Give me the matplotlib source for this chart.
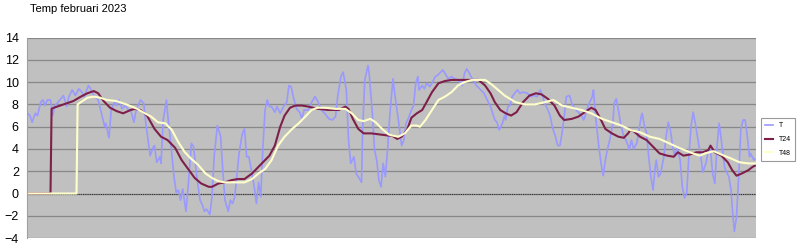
import numpy as np
import matplotlib.pyplot as plt

plt.rcParams['font.family'] = ['Liberation Sans', 'DejaVu Sans']

# hourly temperatures, february 2023 (hour index, value)
t_hours = [0, 2, 4, 7, 9, 12, 14, 16, 18, 21, 23, 25, 28, 33, 36, 38, 41, 44, 47, 50,
           52, 56, 58, 61, 65, 68, 71, 72, 75, 77, 80, 82, 84, 87, 90, 93, 95, 98, 100, 104,
           107, 109, 111, 113, 116, 117, 119, 122, 123, 125, 128, 129, 132, 135, 137, 139, 141, 143, 146, 148,
           151, 153, 156, 159, 161, 163, 165, 168, 170, 172, 175, 178, 180, 182, 185, 187, 189, 191, 195, 198,
           200, 202, 204, 207, 209, 211, 213, 215, 217, 219, 221, 223, 225, 228, 230, 233, 236, 239, 241, 243,
           245, 248, 251, 253, 255, 259, 262, 265, 268, 271, 274, 278, 281, 284, 286, 289, 291, 294, 296, 298,
           301, 303, 305, 308, 309, 311, 314, 315, 318, 320, 322, 324, 326, 328, 330, 332, 334, 337, 339, 342,
           344, 345, 347, 349, 351, 354, 356, 358, 360, 361, 364, 366, 368, 371, 373, 376, 378, 381, 383, 385,
           388, 391, 394, 397, 401, 403, 405, 407, 409, 411, 414, 417, 421, 424, 427, 429, 431, 433, 435, 438,
           440, 441, 443, 445, 447, 450, 452, 454, 457, 461, 464, 467, 470, 473, 475, 477, 480, 482, 484, 487,
           489, 491, 493, 495, 497, 500, 502, 505, 508, 511, 513, 516, 518, 521, 522, 524, 527, 529, 531, 533,
           535, 537, 540, 541, 543, 545, 547, 550, 552, 554, 555, 557, 559, 562, 564, 566, 567, 569, 571, 573,
           575, 577, 579, 580, 582, 584, 587, 589, 591, 593, 595, 597, 599, 602, 604, 606, 608, 610, 612, 614,
           616, 619, 621, 623, 626, 628, 630, 632, 634, 636, 638, 640, 643, 644, 647, 649, 650, 652, 654, 656,
           658, 660, 662, 664, 666, 667, 670, 671]
t_vals = [7.2, 7.0, 6.4, 7.2, 7.0, 8.2, 8.4, 7.9, 8.4, 8.4, 7.0, 7.9, 8.2, 8.8, 7.8, 8.7, 9.3, 8.8, 9.4, 9.1,
          8.7, 9.7, 9.4, 8.8, 8.4, 7.2, 6.0, 6.3, 5.0, 7.5, 8.2, 7.9, 8.4, 7.6, 7.9, 7.5, 7.5, 6.4, 7.5, 8.4,
          8.1, 6.3, 4.8, 3.4, 4.2, 4.3, 2.8, 3.3, 2.7, 6.6, 8.4, 7.2, 4.5, 1.5, 0.1, 0.3, -0.6, 0.4, -1.6, 0.6,
          4.5, 4.2, 1.5, -0.6, -1.0, -1.6, -1.4, -1.9, -0.3, 3.3, 6.1, 5.1, 2.1, -0.6, -1.6, -0.6, -0.9, -0.3, 3.6, 5.4,
          5.8, 3.3, 3.3, 1.8, 0.6, -0.9, 1.0, -0.3, 4.2, 7.5, 8.4, 7.8, 7.8, 7.3, 7.8, 7.2, 7.8, 8.2, 9.7, 9.6,
          8.7, 7.6, 7.3, 6.7, 7.5, 7.5, 8.2, 8.7, 8.2, 7.5, 7.2, 6.7, 6.6, 6.9, 8.7, 10.5, 10.9, 9.3, 4.8, 2.7,
          3.3, 1.8, 1.5, 1.0, 5.7, 10.2, 11.5, 10.8, 7.2, 3.9, 3.0, 1.2, 0.6, 2.7, 1.5, 3.9, 6.9, 10.3, 8.7, 6.6,
          5.1, 4.3, 4.8, 6.3, 6.7, 7.5, 7.9, 9.9, 10.5, 9.3, 9.7, 9.4, 9.9, 9.6, 9.9, 10.5, 10.6, 10.9, 11.1, 10.8,
          10.3, 10.5, 10.3, 10.2, 9.7, 10.8, 11.2, 10.9, 10.5, 10.2, 9.7, 9.4, 9.0, 8.4, 7.8, 7.2, 6.6, 6.4, 5.7, 6.3,
          7.0, 6.6, 7.8, 7.9, 8.7, 9.1, 9.3, 9.0, 9.1, 9.0, 8.7, 8.8, 8.7, 9.3, 8.8, 8.1, 7.5, 7.0, 6.0, 5.1,
          4.3, 4.3, 5.4, 6.9, 8.7, 8.8, 8.1, 7.6, 7.3, 7.0, 6.6, 7.5, 8.1, 8.7, 9.3, 6.9, 4.2, 2.7, 1.6, 3.0,
          4.0, 4.8, 6.3, 8.1, 8.5, 7.5, 6.3, 5.1, 4.8, 4.3, 3.9, 4.8, 4.0, 4.5, 5.7, 6.9, 7.2, 6.1, 5.4, 3.3,
          1.5, 0.3, 2.4, 3.0, 1.5, 1.8, 3.3, 5.1, 6.4, 5.7, 4.3, 3.3, 4.2, 3.0, 0.6, -0.4, 0.0, 3.3, 6.0, 7.3,
          6.3, 4.5, 3.3, 1.9, 2.8, 3.9, 3.9, 1.8, 0.9, 4.2, 6.3, 4.8, 2.4, 2.1, 1.5, 0.3, -1.2, -3.4, -2.1, 1.5,
          5.7, 6.6, 6.6, 5.1, 3.3, 3.6, 3.0, 3.1]

# 24 hour mean
t24_hours = [0, 21, 22, 24, 30, 36, 42, 49, 55, 61, 65, 70, 76, 82, 88, 95, 99, 104, 110, 117,
             123, 129, 136, 142, 148, 154, 160, 167, 170, 176, 182, 188, 194, 200, 207, 211, 216, 220, 223, 228,
             233, 237, 242, 247, 253, 259, 268, 277, 287, 293, 296, 300, 305, 310, 317, 325, 333, 336, 341, 345,
             350, 354, 359, 364, 368, 373, 379, 385, 391, 397, 403, 409, 416, 422, 427, 431, 436, 441, 446, 451,
             457, 463, 469, 474, 480, 486, 491, 495, 502, 508, 514, 520, 524, 529, 533, 539, 545, 550, 554, 556,
             559, 565, 571, 577, 583, 590, 596, 600, 605, 611, 617, 623, 628, 630, 634, 640, 646, 650, 654, 659,
             665, 669, 671]
t24_vals = [0, 0, 7.6, 7.7, 7.9, 8.1, 8.3, 8.7, 9.0, 9.2, 9.0, 8.3, 7.7, 7.4, 7.2, 7.5, 7.6, 7.5, 7.0, 5.8,
            5.1, 4.8, 4.1, 3.0, 2.2, 1.4, 0.9, 0.6, 0.6, 0.9, 1.0, 1.2, 1.3, 1.3, 1.8, 2.2, 2.7, 3.1, 3.4, 4.3,
            6.0, 7.0, 7.7, 7.9, 7.9, 7.8, 7.6, 7.5, 7.5, 7.8, 7.6, 6.7, 5.8, 5.4, 5.4, 5.3, 5.2, 5.2, 4.9, 5.1,
            5.7, 6.8, 7.2, 7.5, 8.2, 9.1, 9.9, 10.1, 10.2, 10.2, 10.2, 10.2, 10.2, 9.7, 9.0, 8.2, 7.5, 7.2, 7.0, 7.3,
            8.2, 8.8, 9.0, 8.9, 8.5, 7.9, 7.0, 6.6, 6.7, 6.9, 7.3, 7.7, 7.5, 6.6, 5.8, 5.4, 5.1, 5.0, 5.4, 5.7,
            5.6, 5.1, 4.8, 4.2, 3.6, 3.4, 3.3, 3.7, 3.4, 3.5, 3.7, 3.7, 3.9, 4.3, 3.7, 3.4, 2.8, 2.1, 1.6, 1.8,
            2.1, 2.4, 2.5]

# 48 hour mean
t48_hours = [0, 45, 46, 49, 55, 61, 67, 73, 82, 91, 101, 108, 114, 120, 127, 133, 139, 145, 151, 157,
             164, 170, 176, 182, 188, 194, 200, 207, 213, 219, 225, 231, 237, 244, 250, 256, 262, 267, 274, 284,
             293, 299, 305, 310, 316, 321, 327, 333, 337, 342, 348, 354, 359, 362, 367, 373, 379, 385, 391, 397,
             403, 410, 416, 422, 428, 434, 440, 445, 450, 459, 468, 477, 485, 493, 502, 511, 520, 530, 539, 548,
             556, 565, 574, 583, 592, 601, 611, 620, 625, 633, 640, 650, 657, 665, 671]
t48_vals = [0, 0, 8.0, 8.2, 8.6, 8.7, 8.6, 8.4, 8.3, 8.0, 7.6, 7.2, 6.9, 6.4, 6.3, 5.7, 4.6, 3.7, 3.1, 2.6,
            1.8, 1.4, 1.1, 1.0, 1.0, 1.0, 1.0, 1.3, 1.8, 2.2, 3.0, 4.3, 5.1, 5.8, 6.3, 6.9, 7.5, 7.7, 7.7, 7.6,
            7.6, 7.2, 6.6, 6.5, 6.7, 6.4, 5.8, 5.3, 5.2, 5.1, 5.4, 6.1, 6.1, 6.0, 6.6, 7.5, 8.4, 8.7, 9.1, 9.7,
            10.0, 10.2, 10.2, 10.2, 9.8, 9.3, 8.8, 8.5, 8.2, 8.0, 8.0, 8.2, 8.4, 7.9, 7.7, 7.5, 7.2, 6.7, 6.4, 6.1,
            5.7, 5.5, 5.1, 4.9, 4.5, 4.1, 3.7, 3.4, 3.6, 3.8, 3.5, 3.1, 2.8, 2.7, 2.7]

fig = plt.figure(figsize=(8, 2.49), dpi=100)
ax = fig.add_axes([0.034, 0.044, 0.911, 0.805])
ax.set_facecolor('#c0c0c0')

ax.plot(t_hours, t_vals, color='#9999ff', lw=1.2, label='T')
ax.plot(t24_hours, t24_vals, color='#7e1f4a', lw=1.5, label='T24')
ax.plot(t48_hours, t48_vals, color='#ffffcc', lw=1.5, label='T48')

ax.set_xlim(-0.5, 672)
ax.set_ylim(-4, 14)
ax.set_yticks(np.arange(-4, 15, 2))
ax.set_xticks([])
ax.yaxis.grid(True, color='#888888', lw=0.9)
ax.set_axisbelow(True)
ax.axhline(0, color='#333333', lw=0.8, ls=(0, (1, 1)), zorder=1.5)
ax.tick_params(axis='y', length=0, labelsize=9, pad=6)
for s in ax.spines.values():
    s.set_visible(False)
ax.spines['left'].set_visible(True)
ax.spines['left'].set_color('#a0a0a0')

fig.text(0.0375, 0.965, 'Temp februari 2023', fontsize=8, va='center', ha='left')

leg = ax.legend(loc='upper left', bbox_to_anchor=(1.007, 0.598), fontsize=5,
                frameon=True, fancybox=False, handlelength=1.1, handletextpad=0.9,
                labelspacing=0.95, borderpad=0.6, borderaxespad=0)
leg.get_frame().set_edgecolor('#999999')
leg.get_frame().set_linewidth(0.8)
leg.get_frame().set_alpha(1)

fig.savefig('out.png', dpi=100)
